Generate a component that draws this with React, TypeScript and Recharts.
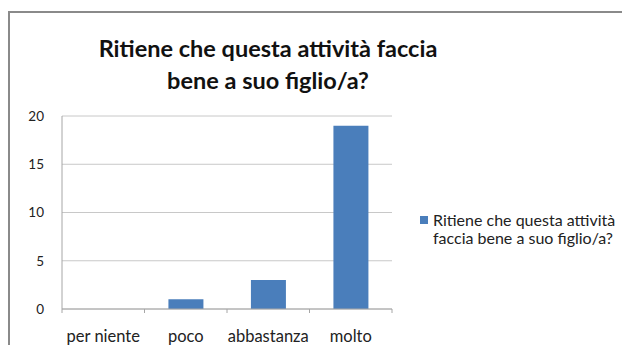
import React from 'react';
import { BarChart, Bar, XAxis, YAxis, CartesianGrid, Legend } from 'recharts';

const categories = ['per niente', 'poco', 'abbastanza', 'molto'];
const answers = [0, 1, 3, 19];
const yTicks = [0, 5, 10, 15, 20];
const seriesName = 'Ritiene che questa attività faccia bene a suo figlio/a?';

const data = categories.map((name, i) => ({ name, value: answers[i] }));

const FONT = 'Lato, "Open Sans", sans-serif';
const PLOT_LEFT = 62;
const PLOT_RIGHT = 392;
const BAND = (PLOT_RIGHT - PLOT_LEFT) / categories.length;

// category ticks sit between the bars, like in Excel
const CategoryTick = (props: any) => {
  const { x, y, payload, index } = props;
  const left = x - BAND / 2;
  return (
    <g>
      <line x1={left} y1={y} x2={left} y2={y + 4} stroke="#a6a6a6" />
      {index === categories.length - 1 && (
        <line x1={x + BAND / 2} y1={y} x2={x + BAND / 2} y2={y + 4} stroke="#a6a6a6" />
      )}
      <text x={x} y={y + 33} textAnchor="middle" fill="#222" fontSize={16.5} fontFamily={FONT}>
        {payload.value}
      </text>
    </g>
  );
};

const LegendBox = () => (
  <div style={{ display: 'flex', fontFamily: FONT, fontSize: 16, color: '#222', lineHeight: '18px', width: 210 }}>
    <span style={{ width: 8, height: 8, background: '#4a7ebb', marginTop: 5, marginRight: 5, flexShrink: 0 }} />
    <span>
      Ritiene che questa attività
      <br />
      faccia bene a suo figlio/a?
    </span>
  </div>
);

export default function App() {
  return (
    <div style={{ position: 'relative', width: 630, height: 353, margin: -8, background: '#fff', overflow: 'hidden' }}>
      <div
        style={{
          position: 'absolute',
          left: 8,
          top: 11,
          width: 640,
          height: 360,
          border: '2px solid #8a8a8a',
          boxSizing: 'border-box',
        }}
      />
      <div
        style={{
          position: 'absolute',
          left: 10,
          top: 32,
          width: 516,
          textAlign: 'center',
          fontFamily: FONT,
          fontWeight: 700,
          fontSize: 23.5,
          lineHeight: '32px',
          color: '#111',
        }}
      >
        Ritiene che questa attività faccia
        <br />
        bene a suo figlio/a?
      </div>
      <div style={{ position: 'absolute', left: 0, top: 0 }}>
        <BarChart
          width={630}
          height={353}
          data={data}
          margin={{ top: 116, right: 238, bottom: 14, left: 22 }}
          barCategoryGap="29%"
        >
          <CartesianGrid vertical={false} stroke="#c8c8c8" />
          <XAxis
            dataKey="name"
            height={30}
            axisLine={{ stroke: '#a6a6a6' }}
            tickLine={false}
            tickSize={0}
            tickMargin={0}
            tick={<CategoryTick />}
            interval={0}
          />
          <YAxis
            width={40}
            domain={[0, 20]}
            ticks={yTicks}
            axisLine={{ stroke: '#a6a6a6' }}
            tickLine={false}
            tickSize={0}
            tickMargin={18}
            tick={{ fill: '#222', fontSize: 13.5, fontFamily: FONT }}
          />
          <Legend
            layout="vertical"
            align="center"
            verticalAlign="middle"
            wrapperStyle={{ left: 420, top: 211 }}
            content={<LegendBox />}
          />
          <Bar dataKey="value" name={seriesName} fill="#4a7ebb" isAnimationActive={false} />
        </BarChart>
      </div>
    </div>
  );
}
